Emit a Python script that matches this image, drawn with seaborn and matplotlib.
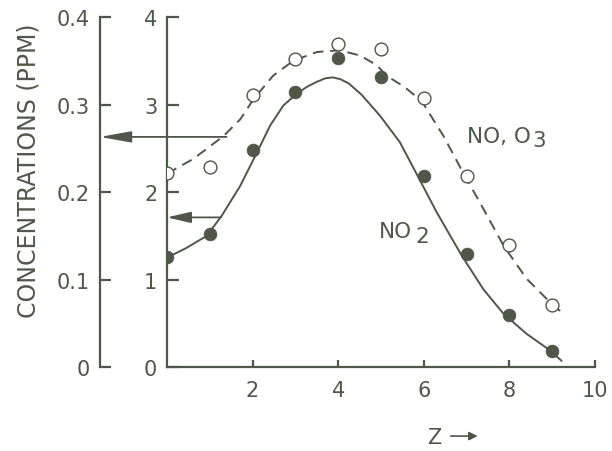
import matplotlib
matplotlib.use("Agg")
import matplotlib.pyplot as plt
import seaborn as sns
import pandas as pd

# measured points (inner axis units)
z_pts = [0, 1, 2, 3, 4, 5, 6, 7, 8, 9]
no_o3_pts = [2.22, 2.29, 3.11, 3.52, 3.69, 3.63, 3.07, 2.18, 1.39, 0.71]
no2_pts = [1.26, 1.52, 2.48, 3.14, 3.53, 3.31, 2.18, 1.29, 0.60, 0.18]

# fitted curves
no2_curve_z = [0.0, 0.45, 0.93, 1.28, 1.71, 2.10, 2.41, 2.72, 3.00, 3.26, 3.50, 3.70,
               3.87, 4.05, 4.25, 4.55, 4.98, 5.44, 5.85, 6.30, 6.89, 7.39, 7.86,
               8.40, 8.95, 9.22]
no2_curve = [1.25, 1.36, 1.50, 1.73, 2.07, 2.45, 2.76, 2.99, 3.11, 3.20, 3.26, 3.30,
             3.31, 3.29, 3.24, 3.11, 2.87, 2.57, 2.19, 1.77, 1.27, 0.89, 0.61,
             0.38, 0.19, 0.07]
no_o3_curve_z = [0.0, 0.62, 1.32, 1.71, 2.02, 2.48, 2.95, 3.50, 4.04, 4.51, 4.90, 5.13,
                 5.55, 5.95, 6.46, 6.92, 7.39, 7.86, 8.40, 8.95, 9.26]
no_o3_curve = [2.21, 2.38, 2.64, 2.83, 3.06, 3.33, 3.50, 3.60, 3.62, 3.56, 3.45, 3.33,
               3.20, 3.04, 2.64, 2.22, 1.81, 1.39, 1.01, 0.74, 0.61]

x_ticks = [2, 4, 6, 8, 10]
inner_ticks = [0, 1, 2, 3, 4]
outer_ticks = [0, 0.1, 0.2, 0.3, 0.4]
outer_labels = ["0", "0.1", "0.2", "0.3", "0.4"]

# arrows: (start z, level on inner axis)
arrow_outer = (1.39, 2.63)
arrow_inner = (1.26, 1.71)

INK = "#4f5848"
BG = "#ffffff"

sns.set_theme(style="ticks")
plt.rcParams["font.family"] = ["DejaVu Sans"]
plt.rcParams["text.color"] = INK

fig = plt.figure(figsize=(6.12, 4.52), dpi=100, facecolor=BG)
ax = fig.add_axes([0.2729, 0.1858, 0.6993, 0.7743])
ax.set_facecolor("none")

curves = pd.DataFrame({"z": no2_curve_z, "c": no2_curve})
curves2 = pd.DataFrame({"z": no_o3_curve_z, "c": no_o3_curve})
sns.lineplot(data=curves, x="z", y="c", ax=ax, color=INK, lw=1.4, sort=False)
sns.lineplot(data=curves2, x="z", y="c", ax=ax, color=INK, lw=1.4, sort=False,
             linestyle=(0, (5.5, 3.5)))

pts = pd.DataFrame({"z": z_pts, "no2": no2_pts, "no_o3": no_o3_pts})
sns.scatterplot(data=pts, x="z", y="no_o3", ax=ax, s=85, color=BG,
                edgecolor=INK, linewidth=1.0, zorder=3)
sns.scatterplot(data=pts, x="z", y="no2", ax=ax, s=85, color=INK,
                edgecolor=INK, linewidth=0.5, zorder=3)

ax.set_xlim(0, 10)
ax.set_ylim(0, 4)
ax.set_xticks(x_ticks)
ax.set_yticks(inner_ticks)
ax.set_xlabel("")
ax.set_ylabel("")
for s in ["top", "right"]:
    ax.spines[s].set_visible(False)
for s in ["left", "bottom"]:
    ax.spines[s].set_color(INK)
    ax.spines[s].set_linewidth(1.6)
ax.tick_params(axis="y", direction="in", length=8.5, width=1.6, color=INK,
               labelcolor=INK, labelsize=15, pad=7)
ax.tick_params(axis="x", direction="in", length=5, width=1.6, color=INK,
               labelcolor=INK, labelsize=15, pad=9)

# outer axis (ppm)
ax2 = ax.twinx()
ax2.set_ylim(0, 0.4)
ax2.set_yticks(outer_ticks)
ax2.set_yticklabels(outer_labels)
ax2.yaxis.set_ticks_position("left")
ax2.yaxis.set_label_position("left")
ax2.spines["left"].set_position(("axes", -0.157))
for s in ["top", "right", "bottom"]:
    ax2.spines[s].set_visible(False)
ax2.spines["left"].set_color(INK)
ax2.spines["left"].set_linewidth(1.6)
ax2.tick_params(axis="y", direction="in", length=8, width=1.6, color=INK,
                labelcolor=INK, labelsize=15, pad=7)
ax2.set_ylabel("")

# arrows pointing to the axes
x_outer = -0.157 * 10
ax.annotate("", xy=(x_outer, arrow_outer[1]), xytext=(arrow_outer[0], arrow_outer[1]),
            arrowprops=dict(arrowstyle="-|>,head_length=1.9,head_width=0.34",
                            mutation_scale=10, color=INK, lw=1.3,
                            shrinkA=0, shrinkB=0),
            annotation_clip=False)
ax.annotate("", xy=(0, arrow_inner[1]), xytext=(arrow_inner[0], arrow_inner[1]),
            arrowprops=dict(arrowstyle="-|>,head_length=1.45,head_width=0.34",
                            mutation_scale=10, color=INK, lw=1.3,
                            shrinkA=0, shrinkB=0),
            annotation_clip=False)

# curve labels
t1 = ax.text(7.0, 2.57, "NO, O", fontsize=15.5, color=INK, va="baseline")
ax.annotate("3", xy=(1, 0), xycoords=t1, xytext=(1, -3), textcoords="offset points",
            fontsize=15.5, color=INK, va="bottom")
t2 = ax.text(4.96, 1.49, "NO", fontsize=15.5, color=INK, va="baseline")
ax.annotate("2", xy=(1, 0), xycoords=t2, xytext=(2, -3.5), textcoords="offset points",
            fontsize=15.5, color=INK, va="bottom")

fig.text(0.047, 0.622, "CONCENTRATIONS (PPM)", rotation=90, ha="center",
         va="center", fontsize=17, color=INK)
fig.text(0.709, 0.032, "Z", fontsize=15, color=INK, ha="center", va="center")
fig.patches.append(matplotlib.patches.FancyArrowPatch(
    (0.732, 0.033), (0.785, 0.033), transform=fig.transFigure,
    arrowstyle="-|>,head_length=5,head_width=2.5", color=INK, lw=1.2))

fig.savefig("out.png", dpi=100, facecolor=BG)
